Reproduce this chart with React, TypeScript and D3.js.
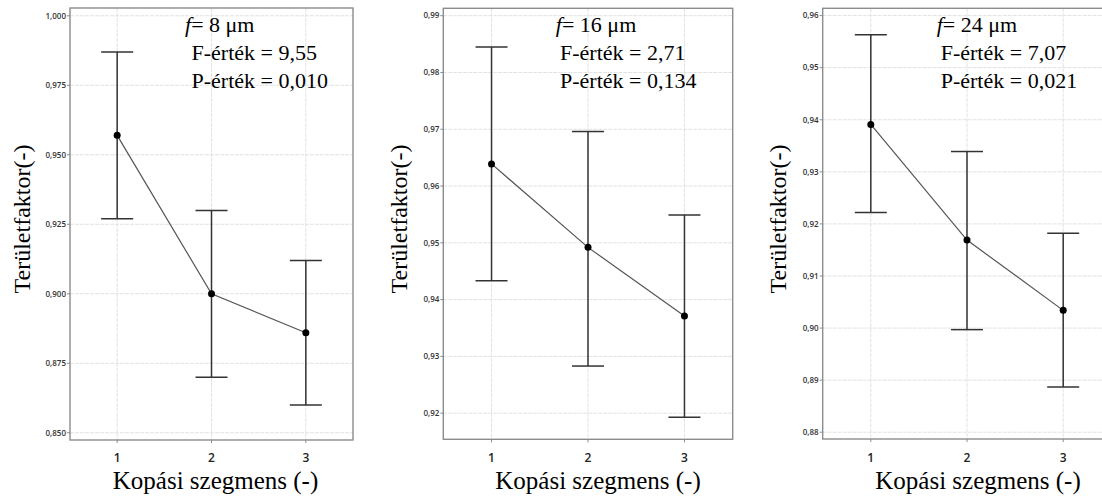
import React from 'react';
import * as d3 from 'd3';

// kopási szegmensek
const segments = [1, 2, 3];

// f = 8 µm
const mean8 = [0.957, 0.9, 0.886];
const low8 = [0.927, 0.87, 0.86];
const high8 = [0.987, 0.93, 0.912];
const ticks8 = [0.85, 0.875, 0.9, 0.925, 0.95, 0.975, 1.0];

// f = 16 µm
const mean16 = [0.9639, 0.9492, 0.9371];
const low16 = [0.9433, 0.9283, 0.9193];
const high16 = [0.9845, 0.9696, 0.9549];
const ticks16 = [0.92, 0.93, 0.94, 0.95, 0.96, 0.97, 0.98, 0.99];

// f = 24 µm
const mean24 = [0.9391, 0.9169, 0.9034];
const low24 = [0.9222, 0.8997, 0.8887];
const high24 = [0.9563, 0.9339, 0.9182];
const ticks24 = [0.88, 0.89, 0.9, 0.91, 0.92, 0.93, 0.94, 0.95, 0.96];

const fiberSizes = ['8', '16', '24'];
const fValues = ['9,55', '2,71', '7,07'];
const pValues = ['0,010', '0,134', '0,021'];

const X_LABEL = 'Kopási szegmens (-)';
const Y_LABEL = 'Területfaktor(-)';

const SERIF = "'Liberation Serif', 'DejaVu Serif', serif";
const SANS = "'Open Sans', 'Noto Sans', sans-serif";

// layout of each panel (pixels)
const panels = [
  {
    mean: mean8, low: low8, high: high8, ticks: ticks8, decimals: 3,
    yDomain: [0.8474, 1.0028], left: 70, right: 353, top: 8, bottom: 440,
    yLabelX: 30, xLabelDx: 4, fX: 115, statX: 121.5,
  },
  {
    mean: mean16, low: low16, high: high16, ticks: ticks16, decimals: 2,
    yDomain: [0.9154, 0.9913], left: 443.3, right: 732.7, top: 8.3, bottom: 439.3,
    yLabelX: 407, xLabelDx: 10, fX: 112.5, statX: 116.7,
  },
  {
    mean: mean24, low: low24, high: high24, ticks: ticks24, decimals: 2,
    yDomain: [0.8787, 0.9614], left: 822.7, right: 1111.3, top: 8.3, bottom: 439,
    yLabelX: 786, xLabelDx: 11, fX: 114, statX: 118,
  },
];

const fmt = (v: number, d: number) => v.toFixed(d).replace('.', ',');

const serifStyle = { fontFamily: SERIF };
const sansStyle = { fontFamily: SANS };

const Panel = ({ p, i }: { p: any; i: number }) => {
  const x = d3.scaleLinear().domain([0.5, 3.5]).range([p.left, p.right]);
  const y = d3.scaleLinear().domain(p.yDomain).range([p.bottom, p.top]);

  const line = d3.line<number>()
    .x((_, k) => x(segments[k]))
    .y(d => y(d));

  const cap = 16;

  return (
    <g>
      {/* grid */}
      {p.ticks.map((t: number) => (
        <line key={'h' + t} x1={p.left} x2={p.right} y1={y(t)} y2={y(t)}
          stroke="#e2e2e2" strokeWidth={1} strokeDasharray="4,1" />
      ))}
      {segments.map(s => (
        <line key={'v' + s} x1={x(s)} x2={x(s)} y1={p.top} y2={p.bottom}
          stroke="#e2e2e2" strokeWidth={1} strokeDasharray="4,1" />
      ))}

      {/* frame */}
      <rect x={p.left} y={p.top} width={p.right - p.left} height={p.bottom - p.top}
        fill="none" stroke="#8c8c8c" strokeWidth={1.4} />

      {/* y axis ticks */}
      {p.ticks.map((t: number) => (
        <g key={'yt' + t}>
          <line x1={p.left - 3} x2={p.left} y1={y(t)} y2={y(t)} stroke="#8c8c8c" />
          <text x={p.left - 4} y={y(t)} dy="0.35em" textAnchor="end"
            style={sansStyle} fontSize={8} fontWeight={600} fill="#333">
            {fmt(t, p.decimals)}
          </text>
        </g>
      ))}

      {/* x axis ticks */}
      {segments.map(s => (
        <g key={'xt' + s}>
          <line x1={x(s)} x2={x(s)} y1={p.bottom} y2={p.bottom + 3} stroke="#8c8c8c" />
          <text x={x(s)} y={462} textAnchor="middle"
            style={sansStyle} fontSize={12} fontWeight={600} fill="#222">
            {s}
          </text>
        </g>
      ))}

      {/* error bars */}
      {segments.map((s, k) => (
        <g key={'eb' + s} stroke="#333" strokeWidth={1.5}>
          <line x1={x(s)} x2={x(s)} y1={y(p.low[k])} y2={y(p.high[k])} />
          <line x1={x(s) - cap} x2={x(s) + cap} y1={y(p.high[k])} y2={y(p.high[k])} />
          <line x1={x(s) - cap} x2={x(s) + cap} y1={y(p.low[k])} y2={y(p.low[k])} />
        </g>
      ))}

      {/* mean line */}
      <path d={line(p.mean) || ''} fill="none" stroke="#555" strokeWidth={1.2} />
      {segments.map((s, k) => (
        <circle key={'pt' + s} cx={x(s)} cy={y(p.mean[k])} r={3.5} fill="#000" />
      ))}

      {/* annotation */}
      <g style={serifStyle} fontSize={22} fill="#000">
        <text x={p.left + p.fX} y={32} style={serifStyle}>
          <tspan fontStyle="italic">f</tspan>= {fiberSizes[i]} μm
        </text>
        <text x={p.left + p.statX} y={60} style={serifStyle}>F-érték = {fValues[i]}</text>
        <text x={p.left + p.statX} y={87.5} style={serifStyle}>P-érték = {pValues[i]}</text>
      </g>

      {/* axis titles */}
      <text x={x(2) + p.xLabelDx} y={489} textAnchor="middle"
        style={serifStyle} fontSize={25} fill="#000">
        {X_LABEL}
      </text>
      <text transform={`translate(${p.yLabelX}, 219) rotate(-90)`} textAnchor="middle"
        style={serifStyle} fontSize={24} fill="#000">
        {Y_LABEL}
      </text>
    </g>
  );
};

export default function App() {
  return (
    <svg width={1102} height={498}
      style={{ position: 'absolute', left: 0, top: 0, background: '#fff' }}>
      <rect width={1102} height={498} fill="#fff" />
      {panels.map((p, i) => <Panel key={i} p={p} i={i} />)}
    </svg>
  );
}
